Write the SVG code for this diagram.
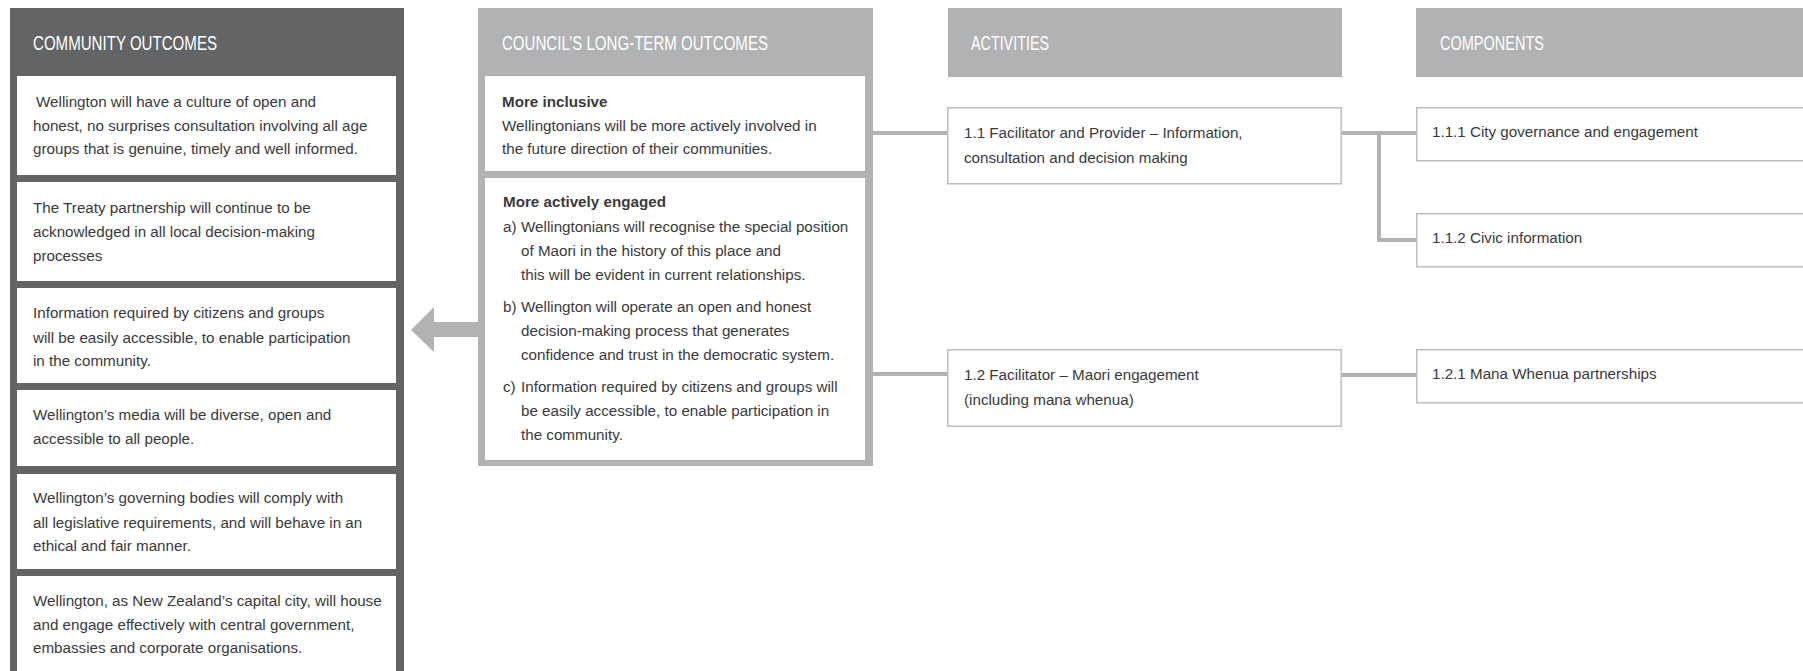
<svg xmlns="http://www.w3.org/2000/svg" width="1803" height="671" viewBox="0 0 1803 671">
<style>
.t{font-family:"Liberation Sans",Arial,sans-serif;font-size:15.2px;fill:#3a3a3c}
.b{font-weight:bold}
.h{font-family:"Liberation Sans",Arial,sans-serif;font-size:20.5px;fill:#ffffff}
.dark{fill:#636466}
.light{fill:#b1b2b4}
.wb{fill:#ffffff}
.box{fill:#ffffff;stroke:#bdbec0;stroke-width:1.5}
.ln{fill:none;stroke:#b1b2b4;stroke-width:4}
</style>
<rect width="1803" height="671" fill="#ffffff"/>

<g id="community-outcomes">
<rect class="dark" x="10" y="8" width="394" height="680"/>
<text class="h" x="33" y="50" textLength="184" lengthAdjust="spacingAndGlyphs">COMMUNITY OUTCOMES</text>
<rect class="wb" x="17" y="76" width="379" height="99"/>
<text class="t" x="36" y="107">Wellington will have a culture of open and</text>
<text class="t" x="33" y="131">honest, no surprises consultation involving all age</text>
<text class="t" x="33" y="154">groups that is genuine, timely and well informed.</text>
<rect class="wb" x="17" y="182" width="379" height="99"/>
<text class="t" x="33" y="213">The Treaty partnership will continue to be</text>
<text class="t" x="33" y="237">acknowledged in all local decision-making</text>
<text class="t" x="33" y="261">processes</text>
<rect class="wb" x="17" y="288" width="379" height="95"/>
<text class="t" x="33" y="318">Information required by citizens and groups</text>
<text class="t" x="33" y="343">will be easily accessible, to enable participation</text>
<text class="t" x="33" y="366">in the community.</text>
<rect class="wb" x="17" y="390" width="379" height="76"/>
<text class="t" x="33" y="420">Wellington’s media will be diverse, open and</text>
<text class="t" x="33" y="444">accessible to all people.</text>
<rect class="wb" x="17" y="474" width="379" height="95"/>
<text class="t" x="33" y="503">Wellington’s governing bodies will comply with</text>
<text class="t" x="33" y="528">all legislative requirements, and will behave in an</text>
<text class="t" x="33" y="551">ethical and fair manner.</text>
<rect class="wb" x="17" y="576" width="379" height="110"/>
<text class="t" x="33" y="606">Wellington, as New Zealand’s capital city, will house</text>
<text class="t" x="33" y="630">and engage effectively with central government,</text>
<text class="t" x="33" y="653">embassies and corporate organisations.</text>
</g>

<g id="councils-long-term-outcomes">
<rect class="light" x="478" y="8" width="395" height="458"/>
<text class="h" x="502" y="50" textLength="266" lengthAdjust="spacingAndGlyphs">COUNCIL’S LONG-TERM OUTCOMES</text>
<rect class="wb" x="485" y="76" width="380" height="95"/>
<text class="t b" x="502" y="107">More inclusive</text>
<text class="t" x="502" y="131">Wellingtonians will be more actively involved in</text>
<text class="t" x="502" y="154">the future direction of their communities.</text>
<rect class="wb" x="485" y="178" width="380" height="282"/>
<text class="t b" x="503" y="207">More actively engaged</text>
<text class="t" x="503" y="232">a)</text>
<text class="t" x="521" y="232">Wellingtonians will recognise the special position</text>
<text class="t" x="521" y="256">of Maori in the history of this place and</text>
<text class="t" x="521" y="280">this will be evident in current relationships.</text>
<text class="t" x="503" y="312">b)</text>
<text class="t" x="521" y="312">Wellington will operate an open and honest</text>
<text class="t" x="521" y="336">decision-making process that generates</text>
<text class="t" x="521" y="360">confidence and trust in the democratic system.</text>
<text class="t" x="503" y="392">c)</text>
<text class="t" x="521" y="392">Information required by citizens and groups will</text>
<text class="t" x="521" y="416">be easily accessible, to enable participation in</text>
<text class="t" x="521" y="440">the community.</text>
</g>

<g id="activities-header">
<rect class="light" x="948" y="8" width="394" height="69"/>
<text class="h" x="971" y="50" textLength="78" lengthAdjust="spacingAndGlyphs">ACTIVITIES</text>
</g>

<g id="activity-1-1">
<rect class="box" x="947.75" y="107.75" width="393.5" height="76"/>
<text class="t" x="964" y="138">1.1 Facilitator and Provider – Information,</text>
<text class="t" x="964" y="163">consultation and decision making</text>
</g>

<g id="activity-1-2">
<rect class="box" x="947.75" y="349.75" width="393.5" height="76.5"/>
<text class="t" x="964" y="380">1.2 Facilitator – Maori engagement</text>
<text class="t" x="964" y="405">(including mana whenua)</text>
</g>

<g id="components-header">
<rect class="light" x="1416" y="8" width="400" height="69"/>
<text class="h" x="1440" y="50" textLength="104" lengthAdjust="spacingAndGlyphs">COMPONENTS</text>
</g>

<g id="component-1-1-1">
<rect class="box" x="1416.75" y="107.75" width="400" height="53"/>
<text class="t" x="1432" y="137">1.1.1 City governance and engagement</text>
</g>

<g id="component-1-1-2">
<rect class="box" x="1416.75" y="213.75" width="400" height="53"/>
<text class="t" x="1432" y="243">1.1.2 Civic information</text>
</g>

<g id="component-1-2-1">
<rect class="box" x="1416.75" y="349.75" width="400" height="53"/>
<text class="t" x="1432" y="379">1.2.1 Mana Whenua partnerships</text>
</g>

<g id="connectors">
<polygon points="411,330 434,307 434,322 479,322 479,337 434,337 434,352" fill="#b1b2b4"/>
<line class="ln" x1="873" y1="133" x2="947" y2="133"/>
<line class="ln" x1="873" y1="374" x2="947" y2="374"/>
<line class="ln" x1="1342" y1="133" x2="1416" y2="133"/>
<polyline class="ln" points="1379,133 1379,240 1416,240"/>
<line class="ln" x1="1342" y1="375" x2="1416" y2="375"/>
</g>
</svg>
